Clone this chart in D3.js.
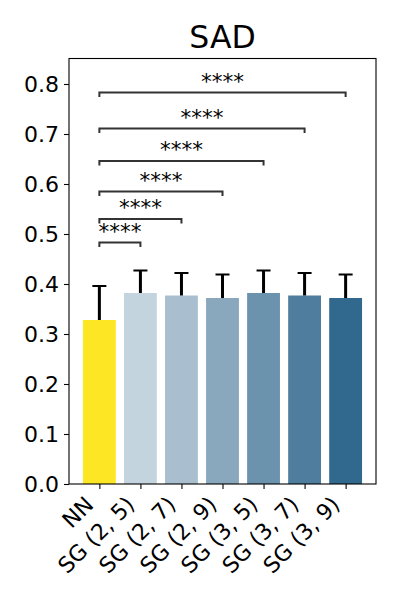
<!DOCTYPE html>
<html>
<head>
  <meta charset="utf-8">
  <title>SAD</title>
  <script src="https://d3js.org/d3.v7.min.js"></script>
  <style>
    body { margin: 0; background: #fff; }
    text { font-family: 'DejaVu Sans', sans-serif; fill: #000; }
  </style>
</head>
<body>
  <script>
    const categories = ['NN', 'SG (2, 5)', 'SG (2, 7)', 'SG (2, 9)', 'SG (3, 5)', 'SG (3, 7)', 'SG (3, 9)'];
    const means = [0.328, 0.382, 0.377, 0.372, 0.382, 0.377, 0.372];
    const errors = [0.068, 0.045, 0.045, 0.047, 0.045, 0.045, 0.047];
    const yTicks = [0.0, 0.1, 0.2, 0.3, 0.4, 0.5, 0.6, 0.7, 0.8];

    // significance brackets: NN vs each SG
    const bracketFrom = [0, 0, 0, 0, 0, 0];
    const bracketTo = [1, 2, 3, 4, 5, 6];
    const bracketHeights = [0.483, 0.530, 0.585, 0.646, 0.711, 0.783];
    const bracketLabels = ['****', '****', '****', '****', '****', '****'];

    const palette = ['#fde725', '#c4d4df', '#a9bfcf', '#89a7bd', '#6b93ae', '#4f7d9d', '#31688e'];

    const W = 400, H = 600;
    const plotL = 69, plotR = 376, plotT = 58.5, plotB = 484;
    const tickFont = '22px';

    const svg = d3.select('body').append('svg')
      .attr('width', W)
      .attr('height', H);

    const x = d3.scaleLinear()
      .domain([-0.74, categories.length - 1 + 0.74])
      .range([plotL, plotR]);
    const bw = x(0.4) - x(-0.4);

    const y = d3.scaleLinear()
      .domain([0, 0.851])
      .range([plotB, plotT]);

    // bars
    svg.selectAll('rect.bar')
      .data(means)
      .enter().append('rect')
      .attr('class', 'bar')
      .attr('x', (d, i) => x(i) - bw / 2)
      .attr('y', d => y(d))
      .attr('width', bw)
      .attr('height', d => y(0) - y(d))
      .attr('fill', (d, i) => palette[i]);

    // error bars (upper)
    const eb = svg.selectAll('g.err')
      .data(means)
      .enter().append('g')
      .attr('class', 'err');
    eb.append('line')
      .attr('x1', (d, i) => x(i)).attr('x2', (d, i) => x(i))
      .attr('y1', d => y(d))
      .attr('y2', (d, i) => y(d + errors[i]))
      .attr('stroke', '#000').attr('stroke-width', 3);
    eb.append('line')
      .attr('x1', (d, i) => x(i) - 7).attr('x2', (d, i) => x(i) + 7)
      .attr('y1', (d, i) => y(d + errors[i]))
      .attr('y2', (d, i) => y(d + errors[i]))
      .attr('stroke', '#000').attr('stroke-width', 2);

    // brackets
    const br = svg.selectAll('g.bracket')
      .data(bracketHeights)
      .enter().append('g')
      .attr('class', 'bracket');
    br.append('path')
      .attr('d', (h, i) => {
        const x1 = x(bracketFrom[i]), x2 = x(bracketTo[i]), yy = y(h);
        return `M${x1},${yy + 4.5}V${yy}H${x2}V${yy + 4.5}`;
      })
      .attr('fill', 'none')
      .attr('stroke', '#333')
      .attr('stroke-width', 2);
    br.append('text')
      .attr('x', (h, i) => (x(bracketFrom[i]) + x(bracketTo[i])) / 2)
      .attr('y', h => y(h) - 4)
      .attr('text-anchor', 'middle')
      .style('font-size', '21.5px')
      .text((h, i) => bracketLabels[i]);

    // frame
    svg.append('rect')
      .attr('x', plotL).attr('y', plotT)
      .attr('width', plotR - plotL).attr('height', plotB - plotT)
      .attr('fill', 'none')
      .attr('stroke', '#000')
      .attr('stroke-width', 1.1);

    // y axis
    const yAxis = svg.append('g')
      .attr('transform', `translate(${plotL},0)`)
      .call(d3.axisLeft(y).tickValues(yTicks).tickFormat(d3.format('.1f')).tickSize(5).tickPadding(5));
    yAxis.select('.domain').remove();
    yAxis.selectAll('line').attr('stroke', '#000').attr('stroke-width', 1.1);
    yAxis.selectAll('text')
      .style('font-size', tickFont)
      .style('font-family', "'DejaVu Sans', sans-serif");

    // x axis
    const xAxis = svg.append('g')
      .attr('transform', `translate(0,${plotB})`)
      .call(d3.axisBottom(x).tickValues(d3.range(categories.length)).tickFormat(i => categories[i]).tickSize(5));
    xAxis.select('.domain').remove();
    xAxis.selectAll('line').attr('stroke', '#000').attr('stroke-width', 1.1);
    xAxis.selectAll('text')
      .style('font-size', tickFont)
      .style('font-family', "'DejaVu Sans', sans-serif")
      .attr('text-anchor', 'end')
      .attr('y', 0)
      .attr('dy', 0)
      .attr('transform', 'translate(-5,22) rotate(-45)');

    // title
    svg.append('text')
      .attr('x', (plotL + plotR) / 2)
      .attr('y', 48)
      .attr('text-anchor', 'middle')
      .style('font-size', '31.5px')
      .text('SAD');
  </script>
</body>
</html>
